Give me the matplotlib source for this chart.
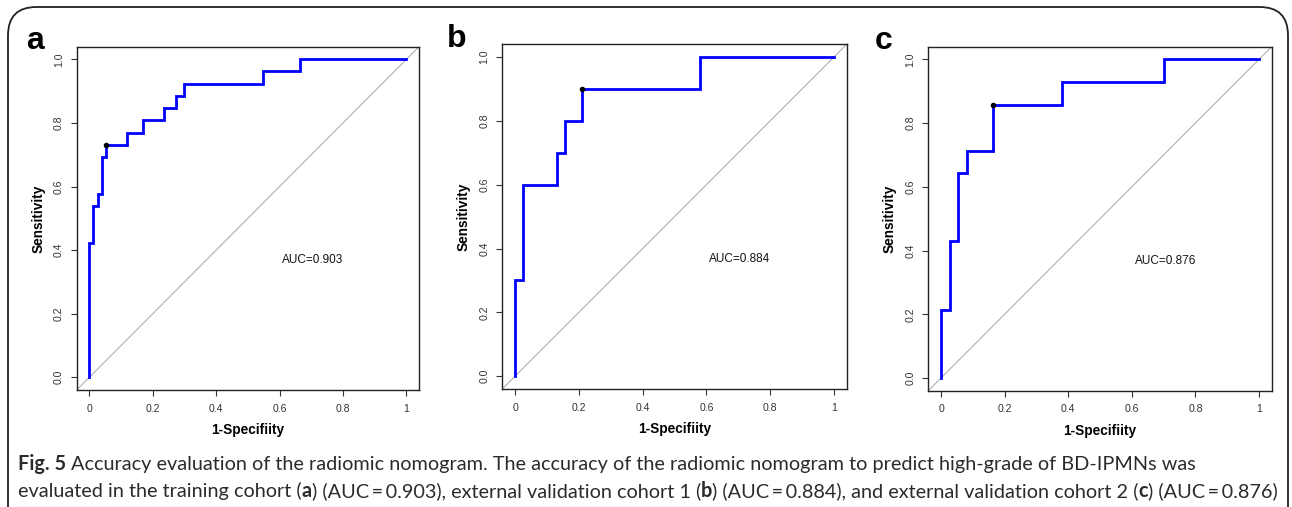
import matplotlib
matplotlib.use("Agg")
import matplotlib.pyplot as plt
from matplotlib.patches import FancyBboxPatch

# ---- data ----
fpr_a = [0.0, 0.0, 0.013, 0.013, 0.026, 0.026, 0.040, 0.040, 0.053, 0.053, 0.118, 0.118,
         0.170, 0.170, 0.235, 0.235, 0.274, 0.274, 0.300, 0.300, 0.547, 0.547, 0.664, 0.664, 1.0]
tpr_a = [0.0, 0.423, 0.423, 0.538, 0.538, 0.577, 0.577, 0.692, 0.692, 0.731, 0.731, 0.769,
         0.769, 0.808, 0.808, 0.846, 0.846, 0.885, 0.885, 0.923, 0.923, 0.962, 0.962, 1.0, 1.0]
fpr_b = [0.0, 0.0, 0.026, 0.026, 0.131, 0.131, 0.157, 0.157, 0.210, 0.210, 0.580, 0.580, 1.0]
tpr_b = [0.0, 0.3, 0.3, 0.6, 0.6, 0.7, 0.7, 0.8, 0.8, 0.9, 0.9, 1.0, 1.0]
fpr_c = [0.0, 0.0, 0.027, 0.027, 0.054, 0.054, 0.082, 0.082, 0.163, 0.163, 0.379, 0.379, 0.702, 0.702, 1.0]
tpr_c = [0.0, 0.214, 0.214, 0.429, 0.429, 0.643, 0.643, 0.714, 0.714, 0.857, 0.857, 0.929, 0.929, 1.0, 1.0]
best_a = (0.053, 0.731)
best_b = (0.210, 0.9)
best_c = (0.163, 0.857)
auc_labels = ["AUC=0.903", "AUC=0.884", "AUC=0.876"]
panel_letters = ["a", "b", "c"]
x_ticks = [0, 0.2, 0.4, 0.6, 0.8, 1.0]
x_ticklabels = ["0", "0.2", "0.4", "0.6", "0.8", "1"]
y_ticks = [0, 0.2, 0.4, 0.6, 0.8, 1.0]
y_ticklabels = ["0.0", "0.2", "0.4", "0.6", "0.8", "1.0"]

W, H = 1292, 507
fig = plt.figure(figsize=(W / 100, H / 100), dpi=100)

# outer rounded frame (its bottom edge runs off the image, as in the reference)
frame = FancyBboxPatch((8 / W, -30 / H), (1280) / W, (H + 23) / H,
                       boxstyle="round,pad=0,rounding_size=0.022",
                       transform=fig.transFigure, fill=False, edgecolor="#222222",
                       linewidth=1.3, mutation_aspect=W / H)
fig.patches.append(frame)

boxes = [(76.7, 419.0, 46.7, 390.0), (502.3, 846.7, 44.3, 389.0), (928.3, 1271.7, 46.7, 390.7)]
letter_pos = [(35, 41), (457, 39), (884, 41)]
data = [(fpr_a, tpr_a, best_a), (fpr_b, tpr_b, best_b), (fpr_c, tpr_c, best_c)]
LS = "Liberation Sans"

for i, ((l, r, t, b), (fx, ty, best)) in enumerate(zip(boxes, data)):
    ax = fig.add_axes([l / W, 1 - b / H, (r - l) / W, (b - t) / H])
    ax.set_xlim(-0.04, 1.04)
    ax.set_ylim(-0.04, 1.04)
    ax.axline((0, 0), slope=1, color="#b0b0b0", linewidth=0.8, zorder=1)
    ax.plot(fx, ty, color="#0000ff", linewidth=2.0, zorder=2, solid_joinstyle="miter")
    ax.plot([best[0]], [best[1]], "o", color="black", markersize=3, zorder=3)
    ax.text(0.705, 0.368, auc_labels[i], ha="center", va="center", fontsize=8.5,
            family=LS, color="#111111")
    ax.set_xticks(x_ticks)
    ax.set_xticklabels(x_ticklabels, fontsize=7.6, family=LS, color="#333333")
    ax.set_yticks(y_ticks)
    ax.set_yticklabels(y_ticklabels, fontsize=7.6, family=LS, color="#333333",
                       rotation=90, va="center")
    ax.tick_params(axis="x", direction="out", length=4.3, width=0.8, color="#333333", pad=5.5)
    ax.tick_params(axis="y", direction="out", length=4.3, width=0.8, color="#333333", pad=5)
    for s in ax.spines.values():
        s.set_linewidth(1.0)
        s.set_color("#222222")
    ax.set_xlabel("1-Specifiity", fontsize=9.8, fontweight="bold", family=LS, labelpad=7)
    ax.set_ylabel("Sensitivity", fontsize=9.8, fontweight="bold", family=LS, labelpad=6)
    lx, ly = letter_pos[i]
    fig.text(lx / W, 1 - ly / H, panel_letters[i], fontsize=23, fontweight="bold",
             ha="center", va="center", family=LS)

cap_font = ["Lato", "Open Sans", "DejaVu Sans"]
cap_color = "#2b2b2b"
line1_parts = [("Fig. 5 ", True),
               ("Accuracy evaluation of the radiomic nomogram. The accuracy of the radiomic nomogram to predict high-grade of BD-IPMNs was", False)]
line2_parts = [("evaluated in the training cohort (", False), ("a", True),
               (") (AUC\u2009=\u20090.903), external validation cohort 1 (", False), ("b", True),
               (") (AUC\u2009=\u20090.884), and external validation cohort 2 (", False), ("c", True),
               (") (AUC\u2009=\u20090.876)", False)]


def write_line(parts, y, size, x0=18):
    texts = []
    x = x0
    for txt, bold in parts:
        t = fig.text(x / W, 1 - y / H, txt, fontsize=size,
                     fontweight="bold" if bold else "normal",
                     color=cap_color, va="baseline", ha="left", family=cap_font)
        fig.canvas.draw()
        x = t.get_window_extent().x1
        texts.append(t)
    return texts, x


size0 = 12.0
texts, xend = write_line(line2_parts, 497, size0)
for t in texts:
    t.remove()
size = size0 * (1277 - 18) / (xend - 18)
write_line(line2_parts, 497, size)
write_line(line1_parts, 470, size)

fig.savefig("out.png", dpi=100)
